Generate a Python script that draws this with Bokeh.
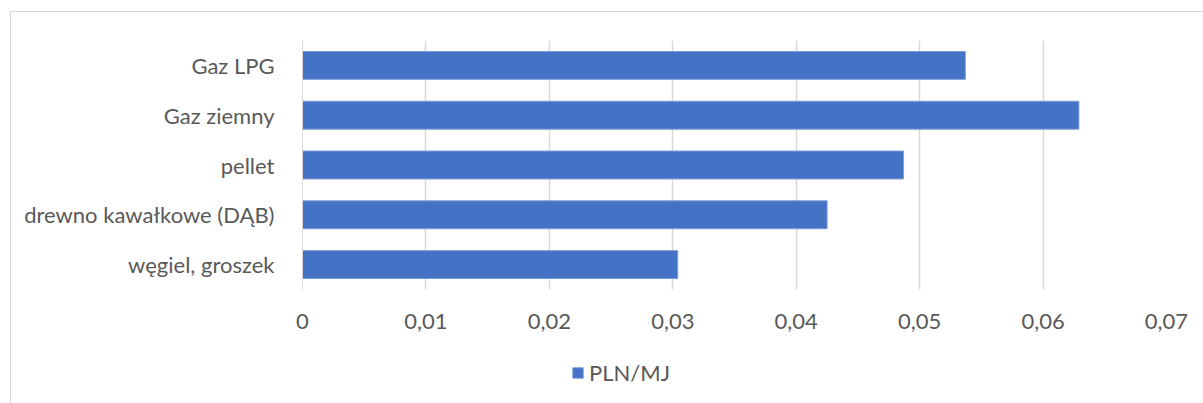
from bokeh.plotting import figure
from bokeh.layouts import column
from bokeh.models import FactorRange, Range1d, FixedTicker, CustomJSTickFormatter, Legend, LegendItem
from bokeh.embed import file_html
from bokeh.resources import INLINE

# Fuel categories (top to bottom as displayed) and cost per MJ
fuels = ["Gaz LPG", "Gaz ziemny", "pellet", "drewno kawałkowe (DĄB)", "węgiel, groszek"]
pln_per_mj = [0.0537, 0.0629, 0.0487, 0.0425, 0.0304]
x_ticks = [0, 0.01, 0.02, 0.03, 0.04, 0.05, 0.06, 0.07]
series_name = "PLN/MJ"

BAR = "#4472C4"
BAR_EDGE = "#7B9BD8"
GRID = "#D9D9D9"
TEXT = "#595959"
FONT = "Lato"

# main bar chart; factors listed bottom-to-top so the first fuel sits at the top
chart = figure(
    width=1192, height=333,
    y_range=FactorRange(factors=fuels[::-1], range_padding=0),
    x_range=Range1d(0, 0.07),
    output_backend="svg", toolbar_location=None,
    min_border_left=291, min_border_top=28, min_border_right=37, min_border_bottom=56,
)
chart.outline_line_color = None

chart.hbar(y=fuels, right=pln_per_mj, left=0, height=0.56,
           fill_color=BAR, line_color=BAR_EDGE, line_width=1)

# x axis: comma decimal labels, no ticks or axis line
chart.xaxis.ticker = FixedTicker(ticks=x_ticks)
chart.xaxis.formatter = CustomJSTickFormatter(
    code="return tick === 0 ? '0' : tick.toFixed(2).replace('.', ',');")
chart.xaxis.axis_line_color = None
chart.xaxis.major_tick_line_color = None
chart.xaxis.minor_tick_line_color = None
chart.xaxis.major_label_text_font = FONT
chart.xaxis.major_label_text_font_size = "22px"
chart.xaxis.major_label_text_color = TEXT
chart.xaxis.major_label_standoff = 18

# y axis: category labels, light axis line at zero
chart.yaxis.axis_line_color = GRID
chart.yaxis.axis_line_width = 1
chart.yaxis.major_tick_line_color = None
chart.yaxis.minor_tick_line_color = None
chart.yaxis.major_label_text_font = FONT
chart.yaxis.major_label_text_font_size = "22px"
chart.yaxis.major_label_text_color = TEXT
chart.yaxis.major_label_standoff = 22

chart.xgrid.grid_line_color = GRID
chart.xgrid.grid_line_width = 1.5
chart.ygrid.grid_line_color = None

# legend strip under the chart (its frame lines up with the chart frame)
key = figure(
    width=1192, height=58,
    x_range=Range1d(0, 1), y_range=Range1d(0, 1),
    x_axis_location=None, y_axis_location=None,
    output_backend="svg", toolbar_location=None,
    min_border=0,
)
key.outline_line_color = None
key.grid.grid_line_color = None
# hidden renderer that only supplies the legend swatch style
swatch = key.hbar(y=[0], right=[pln_per_mj[0]], left=0, height=1,
                  fill_color=BAR, line_color=BAR_EDGE, line_width=1, visible=False)

legend = Legend(
    items=[LegendItem(label=series_name, renderers=[swatch])],
    location=(269, 17),
    orientation="horizontal",
    glyph_width=13, glyph_height=13,
    label_text_font=FONT, label_text_font_size="22px", label_text_color=TEXT,
    label_standoff=5, padding=0, margin=0, spacing=0,
    border_line_color=None, background_fill_alpha=0,
    inactive_fill_alpha=0,
)
key.add_layout(legend, "center")

p = column(chart, key, spacing=0)
p.margin = (11, 0, 0, 10)
p.styles = {"border-left": f"1px solid {GRID}", "border-top": f"1px solid {GRID}",
            "background": "white"}

open("out.html", "w").write(file_html(p, INLINE))
